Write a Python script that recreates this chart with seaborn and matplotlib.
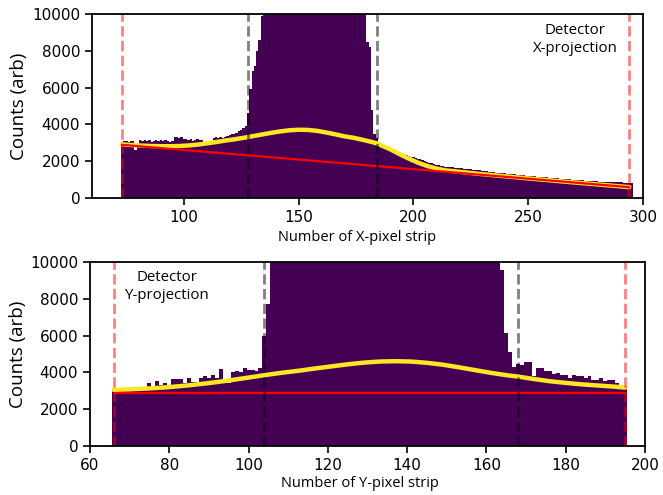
import numpy as np
import pandas as pd
import matplotlib
matplotlib.use("Agg")
import matplotlib.pyplot as plt
import seaborn as sns

# ---------------- data: X projection ----------------
x_strips = list(range(73, 296))
x_counts = [
    # 73-127 flat background
    3060, 3100, 3120, 3050, 3110, 3080, 2600, 2950, 3140, 3120,
    3150, 3100, 3130, 3060, 3120, 3150, 3080, 3140, 3100, 3150,
    3120, 3060, 3120, 3300, 3320, 3280, 3310, 3220, 3200, 3150,
    3180, 3120, 3160, 3200, 3150, 3170, 3060, 3040, 3020, 3050,
    3260, 3300, 3250, 3310, 3280, 3300, 3350, 3420, 3480, 3500,
    3540, 3620, 3700, 3780, 3900,
    # 128-134 rising edge
    4600, 5900, 6900, 7200, 8000, 8600, 9900,
    # 135-179 peak (clipped)
    11000, 13000, 15500, 18000, 21000, 24000, 27000, 30000, 33000, 35500,
    38000, 40000, 41500, 42500, 43000, 43500, 43500, 43000, 42500, 42000,
    41000, 40000, 39000, 37500, 36000, 34500, 33000, 31500, 30000, 28500,
    27000, 25500, 24000, 22500, 21000, 19500, 18000, 16500, 15500, 14500,
    13500, 12500, 11800, 11000, 10500,
    # 180-184 falling edge
    8500, 8200, 4800, 3500, 3250,
    # 185-295 tail
    3050, 2950, 2900, 2800, 2760, 2700, 2600, 2560, 2500, 2470,
    2400, 2380, 2330, 2290, 2250, 2220, 2170, 2120, 2100, 2060,
    2010, 1960, 1900, 1880, 1850, 1820, 1790, 1760, 1720, 1700,
    1690, 1680, 1660, 1640, 1650, 1620, 1610, 1600, 1580, 1560,
    1570, 1540, 1530, 1520, 1510, 1490, 1480, 1450, 1430, 1420,
    1390, 1380, 1370, 1360, 1350, 1340, 1320, 1310, 1300, 1290,
    1270, 1250, 1240, 1230, 1210, 1200, 1190, 1180, 1170, 1160,
    1150, 1140, 1130, 1120, 1110, 1100, 1080, 1070, 1060, 1050,
    1040, 1030, 1020, 1010, 1000, 990, 985, 980, 970, 960,
    950, 940, 930, 920, 910, 900, 895, 890, 885, 880,
    875, 870, 865, 860, 855, 850, 845, 840, 835, 830,
    820,
]

x_fit_pos = [73, 77, 82, 86, 90, 94, 98, 102, 106, 110, 114, 118, 122, 126,
             130, 134, 138, 142, 146, 150, 154, 158, 162, 166, 170, 174, 178,
             182, 184, 186, 190, 194, 198, 202, 206, 210, 214, 218, 222, 228,
             236, 250, 265, 280, 294]
x_fit_val = [2915, 2880, 2845, 2825, 2815, 2815, 2825, 2855, 2900, 2970, 3040,
             3120, 3190, 3270, 3360, 3450, 3540, 3620, 3680, 3710, 3700, 3650,
             3560, 3460, 3350, 3270, 3160, 3040, 2970, 2860, 2640, 2380, 2140,
             1920, 1740, 1600, 1500, 1450, 1400, 1320, 1225, 1065, 900, 740,
             590]
x_bg_pos = [73, 294]
x_bg_val = [2890, 590]
x_range_lines = [73, 294]
x_roi_lines = [128, 184]

# ---------------- data: Y projection ----------------
y_strips = list(range(66, 196))
y_counts = [
    # 66-103
    3140, 3060, 3060, 3080, 3080, 3100, 3120, 3230, 3230, 3410,
    3270, 3540, 3320, 3410, 3330, 3630, 3630, 3650, 3450, 3670,
    3500, 3500, 3670, 3780, 3700, 3850, 3720, 4190, 3500, 3420,
    4010, 4050, 4010, 4230, 4150, 4130, 4100, 4230,
    # 104-105 rising edge
    6000, 7700,
    # 106-163 peak (clipped)
    12000, 15000, 18000, 21000, 24000, 27000, 30000, 33000, 36000, 39000,
    42000, 44500, 47000, 49000, 51000, 52500, 54000, 55000, 56000, 56500,
    57000, 57000, 56500, 56000, 55000, 54000, 52500, 51000, 49500, 48000,
    46000, 44000, 42000, 40000, 38000, 36000, 34000, 32000, 30000, 28000,
    26000, 24000, 22500, 21000, 19500, 18000, 17000, 16000, 15000, 14000,
    13500, 13000, 12500, 12000, 11500, 11000, 10600, 10300,
    # 164-195
    9580, 6130, 5130, 4270, 4450, 4400, 4590, 4590, 3780, 4230,
    4230, 4050, 4050, 3900, 3960, 3870, 3870, 3690, 3870, 3780,
    3780, 3690, 3780, 3600, 3600, 3690, 3510, 3600, 3600, 3420,
    3330, 3150,
]

y_fit_pos = [66, 70, 75, 80, 85, 90, 95, 100, 104, 108, 113, 117, 121, 125,
             129, 133, 137, 141, 145, 149, 153, 157, 161, 165, 168, 172, 176,
             180, 184, 188, 192, 195]
y_fit_val = [3050, 3080, 3130, 3200, 3300, 3420, 3560, 3720, 3850, 3970, 4100,
             4220, 4330, 4440, 4530, 4590, 4610, 4590, 4520, 4420, 4280, 4130,
             3980, 3850, 3770, 3640, 3520, 3430, 3350, 3290, 3230, 3175]
y_bg_pos = [66, 195]
y_bg_val = [2900, 2900]
y_range_lines = [66, 195]
y_roi_lines = [104, 168]

# ---------------- styling ----------------
sns.set_style("ticks")
plt.rcParams["font.family"] = ["DejaVu Sans"]
HIST_COLOR = "#440154"
FIT_COLOR = "#fde725"
LABEL_FONT = ["Open Sans", "DejaVu Sans"]

fig = plt.figure(figsize=(6.63, 4.95), dpi=100)
ax1 = fig.add_axes([92 / 663, 1 - 198 / 495, (643 - 92) / 663, (198 - 14) / 495])
ax2 = fig.add_axes([90 / 663, 1 - 446 / 495, (645 - 90) / 663, (446 - 262) / 495])


def draw(ax, strips, counts, fit_pos, fit_val, bg_pos, bg_val, rng, roi,
         xlim, xticks, xlabel, det_text, det_xy, label_xy, ylab_x):
    df = pd.DataFrame({"strip": strips, "counts": counts})
    sns.histplot(data=df, x="strip", weights="counts", discrete=True,
                 element="step", fill=True, color=HIST_COLOR, alpha=1,
                 linewidth=0, ax=ax)
    sns.lineplot(x=fit_pos, y=fit_val, color=FIT_COLOR, lw=3.2, ax=ax,
                 sort=True)
    sns.lineplot(x=bg_pos, y=bg_val, color="red", lw=1.6, ax=ax)
    for v in rng:
        ax.axvline(v, color="red", alpha=0.5, ls="--", lw=2)
    for v in roi:
        ax.axvline(v, color="black", alpha=0.5, ls="--", lw=2)
    ax.set_xlim(*xlim)
    ax.set_ylim(0, 10000)
    ax.set_xticks(xticks)
    ax.set_yticks([0, 2000, 4000, 6000, 8000, 10000])
    ax.tick_params(axis="both", labelsize=11, width=1.2, length=5,
                   color="black", labelcolor="black", direction="out")
    for s in ax.spines.values():
        s.set_visible(True)
        s.set_color("black")
        s.set_linewidth(1.3)
    ax.set_xlabel(xlabel, fontsize=10.5, family=LABEL_FONT, color="black")
    ax.set_ylabel("Counts (arb)", fontsize=13.5, family=LABEL_FONT,
                  color="black")
    ax.xaxis.set_label_coords(*label_xy)
    ax.xaxis.label.set_va("center")
    ax.yaxis.set_label_coords(ylab_x, 0.5)
    ax.yaxis.label.set_va("center")
    ax.text(det_xy[0], det_xy[1], det_text, ha="center", va="center",
            fontsize=10.8, family=LABEL_FONT, linespacing=1.25,
            color="black")


draw(ax1, x_strips, x_counts, x_fit_pos, x_fit_val, x_bg_pos, x_bg_val,
     x_range_lines, x_roi_lines, (60, 300), [100, 150, 200, 250, 300],
     "Number of X-pixel strip", "Detector\nX-projection", (270.5, 8600),
     (0.481, -0.217), -0.133)
draw(ax2, y_strips, y_counts, y_fit_pos, y_fit_val, y_bg_pos, y_bg_val,
     y_range_lines, y_roi_lines, (60, 200),
     [60, 80, 100, 120, 140, 160, 180, 200],
     "Number of Y-pixel strip", "Detector\nY-projection", (79.5, 8650),
     (0.487, -0.205), -0.129)

fig.savefig("out.png", dpi=100)
